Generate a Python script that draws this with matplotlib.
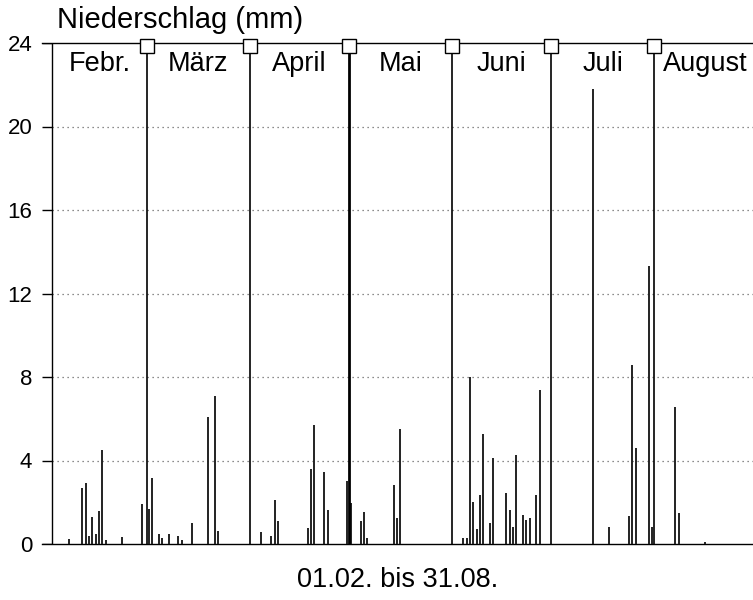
import matplotlib
matplotlib.use("Agg")
import matplotlib.pyplot as plt
import datetime as dt

plt.rcParams['font.family'] = ['Liberation Sans', 'DejaVu Sans']

# ---- data -------------------------------------------------------------
months = ["Febr.", "März", "April", "Mai", "Juni", "Juli", "August"]
month_days = [28, 31, 30, 31, 30, 31, 31]
y_ticks = [0, 4, 8, 12, 16, 20, 24]

rain_dates = [
    "02-05", "02-09", "02-10", "02-11", "02-12", "02-13", "02-14", "02-15",
    "02-16", "02-21", "02-27",
    "03-01", "03-02", "03-04", "03-05", "03-07", "03-10", "03-11", "03-14",
    "03-19", "03-21", "03-22",
    "04-04", "04-07", "04-08", "04-09", "04-18", "04-19", "04-20", "04-23",
    "04-24", "04-30",
    "05-01", "05-04", "05-05", "05-06", "05-14", "05-15", "05-16",
    "06-04", "06-05", "06-06", "06-07", "06-08", "06-09", "06-10", "06-12",
    "06-13", "06-17", "06-18", "06-19", "06-20", "06-22", "06-23", "06-24",
    "06-26", "06-27",
    "07-13", "07-18", "07-24", "07-25", "07-26", "07-30", "07-31",
    "08-07", "08-08", "08-16",
]
rain_mm = [
    0.24, 2.7, 2.9, 0.38, 1.3, 0.48, 1.6, 4.5,
    0.2, 0.33, 1.9,
    1.67, 3.15, 0.48, 0.3, 0.48, 0.38, 0.2, 1.0,
    6.1, 7.1, 0.62,
    0.59, 0.38, 2.1, 1.12, 0.75, 3.6, 5.7, 3.47,
    1.63, 3.03,
    1.95, 1.1, 1.53, 0.3, 2.83, 1.23, 5.5,
    0.27, 0.3, 7.98, 2.03, 0.7, 2.35, 5.27, 1.02,
    4.1, 2.46, 1.63, 0.83, 4.26, 1.39, 1.15, 1.23,
    2.35, 7.38,
    21.8, 0.83, 1.34, 8.57, 4.58, 13.3, 0.8,
    6.58, 1.47, 0.1,
]

# ---- helpers ---------------------------------------------------------
start = dt.date(1987, 2, 1)
def day_index(s):
    m, d = map(int, s.split("-"))
    return (dt.date(1987, m, d) - start).days

bar_x = [day_index(s) + 0.5 for s in rain_dates]
month_start = [0]
for n in month_days[:-1]:
    month_start.append(month_start[-1] + n)
month_end = [s + n for s, n in zip(month_start, month_days)]

# ---- figure ----------------------------------------------------------
fig = plt.figure(figsize=(7.53, 6.0), dpi=100)
ax = fig.add_axes([42 / 753, 56 / 600, 711 / 753, 501 / 600])

x_left, x_right = -3.68, 210.9
ax.set_xlim(x_left, x_right)
ax.set_ylim(0, 24)

for s in ["left", "right"]:
    ax.spines[s].set_visible(False)
ax.spines["top"].set_linewidth(1.0)
ax.spines["bottom"].set_linewidth(1.0)

# grid (dotted)
feb_line = -0.6
ax.hlines(y_ticks[1:-1], feb_line, x_right, colors="#666666",
          linestyles=(0, (1, 3)), linewidth=0.9, zorder=1)
# short tick stubs
ax.hlines(y_ticks, x_left, feb_line, colors="black", linewidth=1.0, zorder=2)

# bars
ax.vlines(bar_x, 0, rain_mm, colors="#222222", linewidth=1.4, zorder=3)

# month separators
ax.vlines([feb_line], 0, 24, colors="black", linewidth=1.0, zorder=4)
sep_widths = [1.2, 1.2, 2.0, 1.2, 1.2, 1.2]
ax.vlines(month_start[1:], 0, 24, colors="black", linewidth=sep_widths, zorder=4)
ax.plot(month_start[1:], [23.85] * (len(months) - 1), linestyle="none",
        marker="s", markersize=9.5, markerfacecolor="white",
        markeredgecolor="black", markeredgewidth=1.0, zorder=5, clip_on=False)

# month labels
for name, s, e in zip(months, [feb_line] + month_start[1:], month_end):
    ax.text((s + e) / 2, 23.0, name, ha="center", va="center", fontsize=19.5)

ax.set_xticks([])
ax.set_yticks(y_ticks)
ax.set_yticklabels([str(v) for v in y_ticks], fontsize=16)
ax.tick_params(axis="y", length=0, pad=7)

fig.text(57 / 753, 1 - 20 / 600, "Niederschlag (mm)", ha="left", va="center",
         fontsize=21)
fig.text(397.5 / 753, 1 - 580 / 600, "01.02. bis 31.08.", ha="center",
         va="center", fontsize=19.5)

fig.savefig("out.png", dpi=100)
